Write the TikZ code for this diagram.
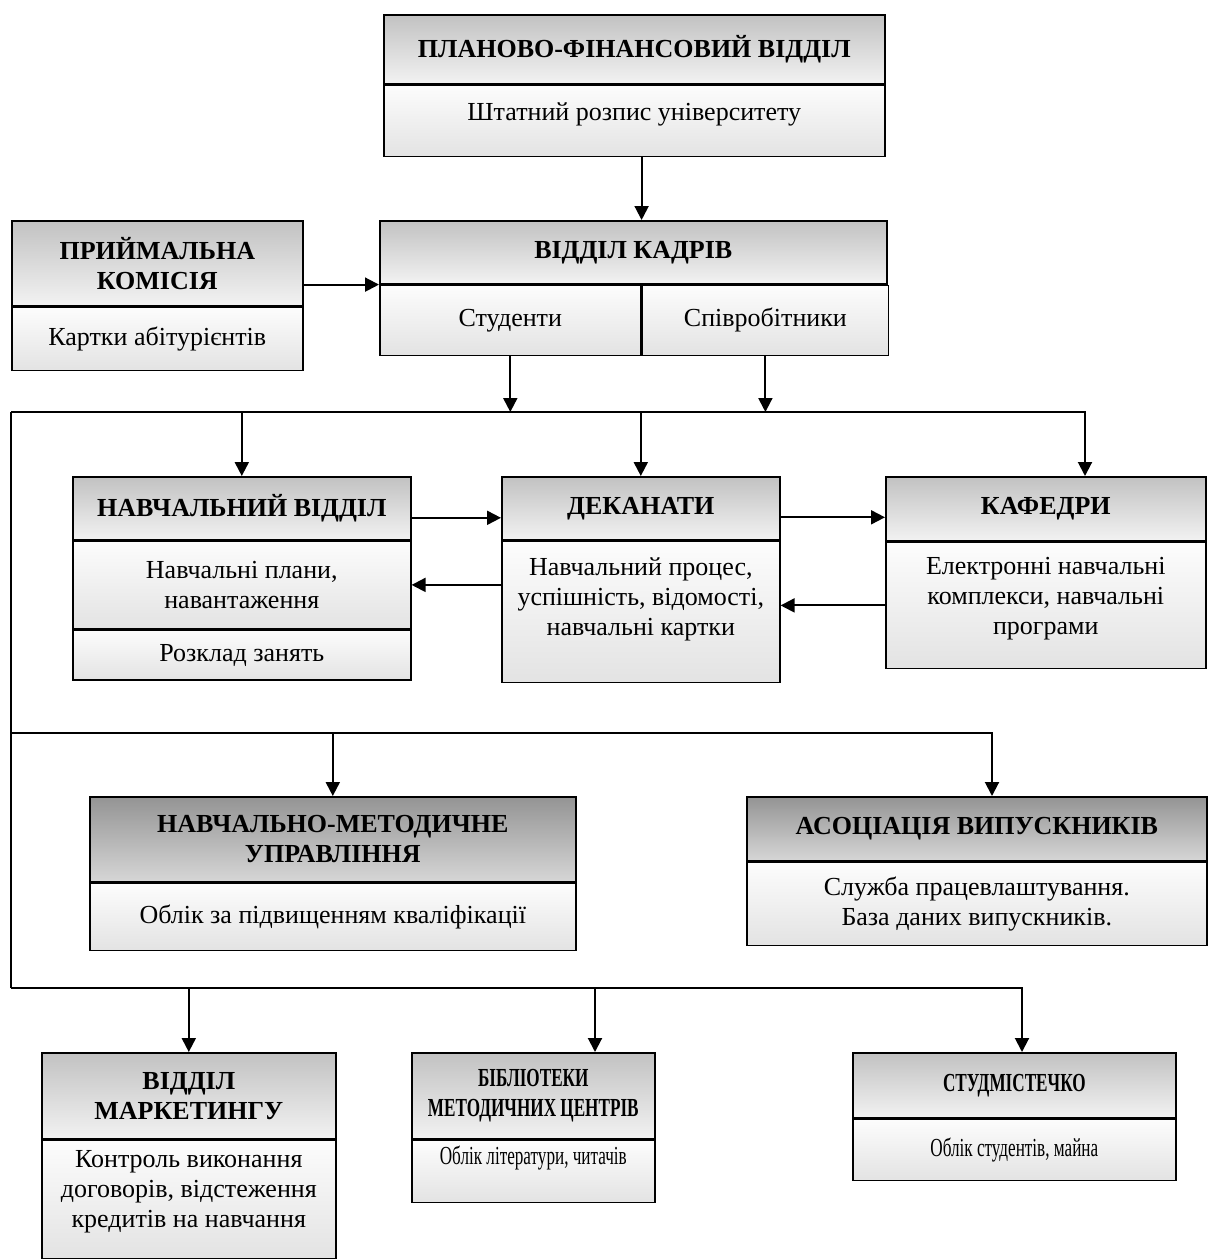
\documentclass[tikz,border=0pt]{standalone}
\usepackage{fontspec}
\setmainfont{Liberation Serif}
\newfontfamily\narrowfont{Liberation Serif}[FakeStretch=0.66]
\usetikzlibrary{arrows.meta}

\definecolor{headtop}{gray}{0.76}
\definecolor{headbot}{gray}{0.95}
\definecolor{darktop}{gray}{0.58}
\definecolor{darkbot}{gray}{0.84}
\definecolor{bodytop}{gray}{0.99}
\definecolor{bodybot}{gray}{0.89}

\begin{document}
\begin{tikzpicture}[x=0.5pt, y=-0.5pt,
    every node/.style={font=\fontsize{13}{15}\selectfont},
    cell/.style={draw, line width=0.8pt, rectangle, inner sep=0pt, anchor=north west, align=center},
    head/.style={cell, top color=headtop, bottom color=headbot, font=\fontsize{13}{15}\selectfont\bfseries},
    darkhead/.style={head, top color=darktop, bottom color=darkbot},
    body/.style={cell, top color=bodytop, bottom color=bodybot},
    narrowhead/.style={head, font=\fontsize{13}{15}\selectfont\narrowfont\bfseries},
    narrowbody/.style={body, font=\fontsize{13}{15}\selectfont\narrowfont},
    arr/.style={line width=1pt, -{Triangle[length=7pt, width=7pt]}},
    bus/.style={line width=1pt}]

    % розміри сторінки
    \useasboundingbox (0,0) rectangle (1207,1259);

    % --- верхній рівень ---
    \node[head, minimum width=250.5pt, minimum height=34.5pt] (pfv) at (383,14) {ПЛАНОВО-ФІНАНСОВИЙ ВІДДІЛ};
    \node[body, minimum width=250.5pt, minimum height=35.5pt, text depth=9pt] (pfvb) at (pfv.south west) {Штатний розпис університету};

    \node[head, minimum width=145.5pt, minimum height=42.5pt] (pk) at (11,220) {ПРИЙМАЛЬНА\\КОМІСІЯ};
    \node[body, minimum width=145.5pt, minimum height=31.5pt] (pkb) at (pk.south west) {Картки абітурієнтів};

    \node[head, minimum width=253.5pt, minimum height=31.5pt] (vk) at (379,220) {ВІДДІЛ КАДРІВ};
    \node[body, minimum width=130.5pt, minimum height=35pt, text depth=3pt] (stud) at (vk.south west) {Студенти};
    \node[body, minimum width=123pt, minimum height=35pt, text depth=3pt] (spiv) at (stud.north east) {Співробітники};

    % --- другий рівень ---
    \node[head, minimum width=169pt, minimum height=31.5pt] (nv) at (72,476) {НАВЧАЛЬНИЙ ВІДДІЛ};
    \node[body, minimum width=169pt, minimum height=43.5pt] (nvplan) at (nv.south west) {Навчальні плани,\\навантаження};
    \node[body, minimum width=169pt, minimum height=25pt] (nvrozk) at (nvplan.south west) {Розклад занять};

    \node[head, minimum width=139pt, minimum height=31.5pt] (dek) at (501,476) {ДЕКАНАТИ};
    \node[body, minimum width=139pt, minimum height=70.5pt, text depth=15pt] (dekb) at (dek.south west) {Навчальний процес,\\успішність, відомості,\\навчальні картки};

    \node[head, minimum width=160pt, minimum height=32pt] (kaf) at (885,476) {КАФЕДРИ};
    \node[body, minimum width=160pt, minimum height=63pt, text depth=10pt] (kafb) at (kaf.south west) {Електронні навчальні\\комплекси, навчальні\\програми};

    % --- третій рівень ---
    \node[darkhead, minimum width=243pt, minimum height=42.5pt] (nmu) at (89,796) {НАВЧАЛЬНО-МЕТОДИЧНЕ\\УПРАВЛІННЯ};
    \node[body, minimum width=243pt, minimum height=33.5pt] (nmub) at (nmu.south west) {Облік за підвищенням кваліфікації};

    \node[darkhead, minimum width=230pt, minimum height=32pt] (asv) at (746,796) {АСОЦІАЦІЯ ВИПУСКНИКІВ};
    \node[body, minimum width=230pt, minimum height=41.5pt] (asvb) at (asv.south west) {Служба працевлаштування.\\База даних випускників.};

    % --- нижній рівень ---
    \node[head, minimum width=147pt, minimum height=43pt] (vm) at (41,1052) {ВІДДІЛ\\МАРКЕТИНГУ};
    \node[body, minimum width=147pt, minimum height=59pt, text depth=10pt] (vmb) at (vm.south west) {Контроль виконання\\договорів, відстеження\\кредитів на навчання};

    \node[narrowhead, minimum width=121.5pt, minimum height=43pt] (bib) at (411,1052) {БІБЛІОТЕКИ\\МЕТОДИЧНИХ ЦЕНТРІВ};
    \node[narrowbody, minimum width=121.5pt, minimum height=31pt, text depth=16pt] (bibb) at (bib.south west) {Облік літератури, читачів};

    \node[narrowhead, minimum width=161.5pt, minimum height=32.5pt] (stm) at (852,1052) {СТУДМІСТЕЧКО};
    \node[narrowbody, minimum width=161.5pt, minimum height=30.5pt] (stmb) at (stm.south west) {Облік студентів, майна};

    % --- шини ---
    \coordinate (busA) at (11,412);
    \coordinate (busAend) at (1085,412);
    \coordinate (busB) at (11,733);
    \coordinate (busBend) at (992,733);
    \coordinate (busC) at (11,988);
    \coordinate (busCend) at (1022,988);
    \coordinate (bibin) at (595,988);

    \draw[arr] (stud.north east |- pfvb.south) -- (stud.north east |- vk.north);
    \draw[arr] (pk.east |- vk.south west) -- (vk.south west);
    \draw[arr] (stud.south) -- (stud.south |- busA);
    \draw[arr] (spiv.south) -- (spiv.south |- busA);

    \draw[bus] (busA) -- (busC);
    \draw[arr] (busA) -- (busAend) -- (busAend |- kaf.north);
    \draw[arr] (nv.north |- busA) -- (nv.north);
    \draw[arr] (dek.north |- busA) -- (dek.north);

    \draw[arr] ([yshift=-4.75pt]nv.east) -- ([yshift=-4.75pt]nv.east -| dek.west);
    \draw[arr] (nvplan.east -| dek.west) -- (nvplan.east);
    \draw[arr] ([yshift=-4.5pt]dek.east) -- ([yshift=-4.5pt]dek.east -| kaf.west);
    \draw[arr] (kafb.west) -- (kafb.west -| dek.east);

    \draw[arr] (busB) -- (busBend) -- (busBend |- asv.north);
    \draw[arr] (nmu.north |- busB) -- (nmu.north);

    \draw[arr] (busC) -- (busCend) -- (busCend |- stm.north);
    \draw[arr] (vm.north |- busC) -- (vm.north);
    \draw[arr] (bibin) -- (bibin |- bib.north);

\end{tikzpicture}
\end{document}
